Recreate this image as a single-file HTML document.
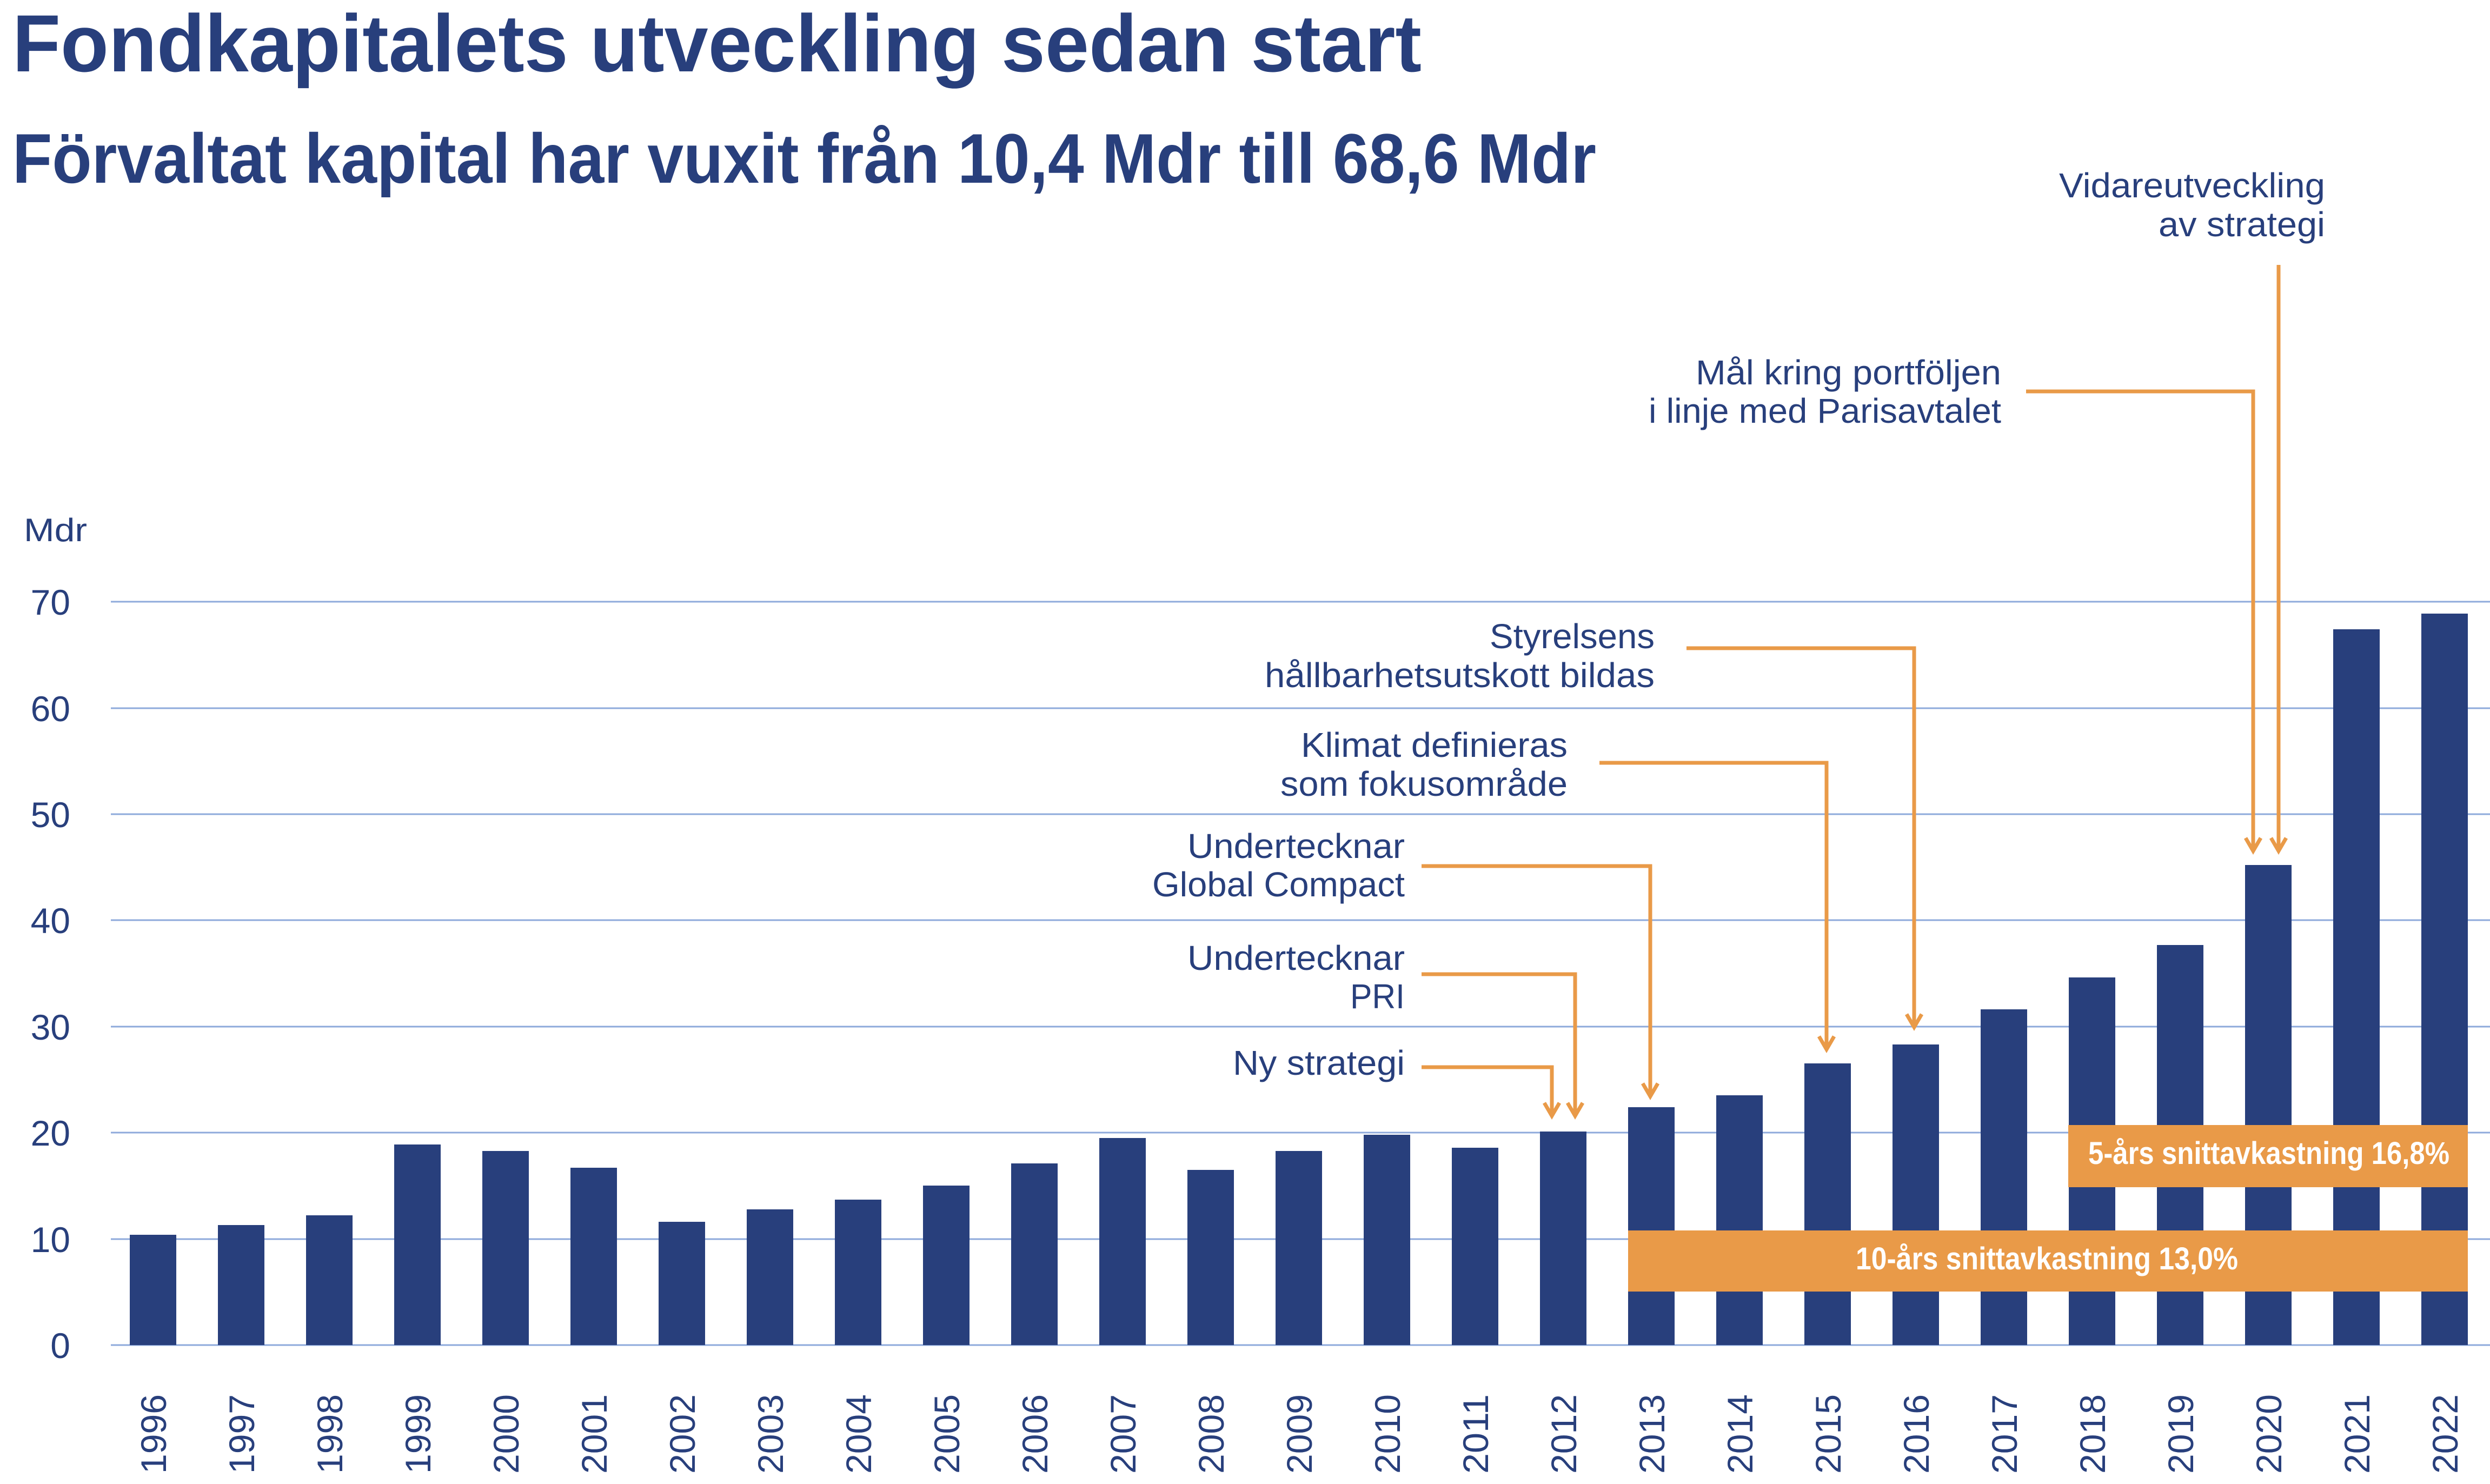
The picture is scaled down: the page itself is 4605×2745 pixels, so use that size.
<!DOCTYPE html>
<html><head><meta charset="utf-8"><style>
html,body{margin:0;padding:0;background:#fff;}
svg{display:block;}
</style></head><body>
<svg width="4605" height="2745" viewBox="0 0 4605 2745" xmlns="http://www.w3.org/2000/svg" font-family="'Liberation Sans', sans-serif">
<rect width="4605" height="2745" fill="#fff"/>
<text x="23" y="132" font-size="150" font-weight="bold" fill="#283f7c" textLength="2606" lengthAdjust="spacingAndGlyphs">Fondkapitalets utveckling sedan start</text>
<text x="23" y="338" font-size="130" font-weight="bold" fill="#283f7c" textLength="2929" lengthAdjust="spacingAndGlyphs">Förvaltat kapital har vuxit från 10,4 Mdr till 68,6 Mdr</text>

<g stroke="#8eaadb" stroke-width="3">
<line x1="205" y1="2488" x2="4605" y2="2488"/>
<line x1="205" y1="2292" x2="4605" y2="2292"/>
<line x1="205" y1="2095" x2="4605" y2="2095"/>
<line x1="205" y1="1899" x2="4605" y2="1899"/>
<line x1="205" y1="1702" x2="4605" y2="1702"/>
<line x1="205" y1="1506" x2="4605" y2="1506"/>
<line x1="205" y1="1310" x2="4605" y2="1310"/>
<line x1="205" y1="1113" x2="4605" y2="1113"/>
</g>
<g font-size="66" fill="#283f7c" text-anchor="end">
<text x="130" y="2512">0</text>
<text x="130" y="2316">10</text>
<text x="130" y="2119">20</text>
<text x="130" y="1923">30</text>
<text x="130" y="1726">40</text>
<text x="130" y="1530">50</text>
<text x="130" y="1334">60</text>
<text x="130" y="1137">70</text>
</g>
<text x="44" y="1001" font-size="60" fill="#283f7c" textLength="117" lengthAdjust="spacingAndGlyphs">Mdr</text>

<g fill="#283f7c">
<rect x="240" y="2284" width="86" height="204"/>
<rect x="403" y="2266" width="86" height="222"/>
<rect x="566" y="2248" width="86" height="240"/>
<rect x="729" y="2117" width="86" height="371"/>
<rect x="892" y="2129" width="86" height="359"/>
<rect x="1055" y="2160" width="86" height="328"/>
<rect x="1218" y="2260" width="86" height="228"/>
<rect x="1381" y="2237" width="86" height="251"/>
<rect x="1544" y="2219" width="86" height="269"/>
<rect x="1707" y="2193" width="86" height="295"/>
<rect x="1870" y="2152" width="86" height="336"/>
<rect x="2033" y="2105" width="86" height="383"/>
<rect x="2196" y="2164" width="86" height="324"/>
<rect x="2359" y="2129" width="86" height="359"/>
<rect x="2522" y="2099" width="86" height="389"/>
<rect x="2685" y="2123" width="86" height="365"/>
<rect x="2848" y="2093" width="86" height="395"/>
<rect x="3011" y="2048" width="86" height="440"/>
<rect x="3174" y="2026" width="86" height="462"/>
<rect x="3337" y="1967" width="86" height="521"/>
<rect x="3500" y="1932" width="86" height="556"/>
<rect x="3663" y="1867" width="86" height="621"/>
<rect x="3826" y="1808" width="86" height="680"/>
<rect x="3989" y="1748" width="86" height="740"/>
<rect x="4152" y="1600" width="86" height="888"/>
<rect x="4315" y="1164" width="86" height="1324"/>
<rect x="4478" y="1135" width="86" height="1353"/>
</g>

<rect x="3011" y="2276" width="1553" height="113" fill="#e99a48"/>
<rect x="3825" y="2081" width="739" height="115" fill="#e99a48"/>
<text x="3432" y="2348" font-size="58" font-weight="bold" fill="#fff" textLength="707" lengthAdjust="spacingAndGlyphs">10-års snittavkastning 13,0%</text>
<text x="3862" y="2153" font-size="58" font-weight="bold" fill="#fff" textLength="668" lengthAdjust="spacingAndGlyphs">5-års snittavkastning 16,8%</text>

<g font-size="66" fill="#283f7c">
<text transform="translate(307,2726) rotate(-90)" textLength="147" lengthAdjust="spacingAndGlyphs">1996</text>
<text transform="translate(470,2726) rotate(-90)" textLength="147" lengthAdjust="spacingAndGlyphs">1997</text>
<text transform="translate(633,2726) rotate(-90)" textLength="147" lengthAdjust="spacingAndGlyphs">1998</text>
<text transform="translate(796,2726) rotate(-90)" textLength="147" lengthAdjust="spacingAndGlyphs">1999</text>
<text transform="translate(959,2726) rotate(-90)" textLength="147" lengthAdjust="spacingAndGlyphs">2000</text>
<text transform="translate(1122,2726) rotate(-90)" textLength="147" lengthAdjust="spacingAndGlyphs">2001</text>
<text transform="translate(1285,2726) rotate(-90)" textLength="147" lengthAdjust="spacingAndGlyphs">2002</text>
<text transform="translate(1448,2726) rotate(-90)" textLength="147" lengthAdjust="spacingAndGlyphs">2003</text>
<text transform="translate(1611,2726) rotate(-90)" textLength="147" lengthAdjust="spacingAndGlyphs">2004</text>
<text transform="translate(1774,2726) rotate(-90)" textLength="147" lengthAdjust="spacingAndGlyphs">2005</text>
<text transform="translate(1937,2726) rotate(-90)" textLength="147" lengthAdjust="spacingAndGlyphs">2006</text>
<text transform="translate(2100,2726) rotate(-90)" textLength="147" lengthAdjust="spacingAndGlyphs">2007</text>
<text transform="translate(2263,2726) rotate(-90)" textLength="147" lengthAdjust="spacingAndGlyphs">2008</text>
<text transform="translate(2426,2726) rotate(-90)" textLength="147" lengthAdjust="spacingAndGlyphs">2009</text>
<text transform="translate(2589,2726) rotate(-90)" textLength="147" lengthAdjust="spacingAndGlyphs">2010</text>
<text transform="translate(2752,2726) rotate(-90)" textLength="147" lengthAdjust="spacingAndGlyphs">2011</text>
<text transform="translate(2915,2726) rotate(-90)" textLength="147" lengthAdjust="spacingAndGlyphs">2012</text>
<text transform="translate(3078,2726) rotate(-90)" textLength="147" lengthAdjust="spacingAndGlyphs">2013</text>
<text transform="translate(3241,2726) rotate(-90)" textLength="147" lengthAdjust="spacingAndGlyphs">2014</text>
<text transform="translate(3404,2726) rotate(-90)" textLength="147" lengthAdjust="spacingAndGlyphs">2015</text>
<text transform="translate(3567,2726) rotate(-90)" textLength="147" lengthAdjust="spacingAndGlyphs">2016</text>
<text transform="translate(3730,2726) rotate(-90)" textLength="147" lengthAdjust="spacingAndGlyphs">2017</text>
<text transform="translate(3893,2726) rotate(-90)" textLength="147" lengthAdjust="spacingAndGlyphs">2018</text>
<text transform="translate(4056,2726) rotate(-90)" textLength="147" lengthAdjust="spacingAndGlyphs">2019</text>
<text transform="translate(4219,2726) rotate(-90)" textLength="147" lengthAdjust="spacingAndGlyphs">2020</text>
<text transform="translate(4382,2726) rotate(-90)" textLength="147" lengthAdjust="spacingAndGlyphs">2021</text>
<text transform="translate(4545,2726) rotate(-90)" textLength="147" lengthAdjust="spacingAndGlyphs">2022</text>
</g>

<g fill="none" stroke="#e99a48" stroke-width="7">
<polyline points="2629,1974 2870,1974 2870,2064"/>
<polyline points="2856,2040 2870,2064 2884,2040"/>
<polyline points="2629,1802 2913,1802 2913,2064"/>
<polyline points="2899,2040 2913,2064 2927,2040"/>
<polyline points="2629,1602 3052,1602 3052,2028"/>
<polyline points="3038,2004 3052,2028 3066,2004"/>
<polyline points="2958,1411 3378,1411 3378,1941"/>
<polyline points="3364,1917 3378,1941 3392,1917"/>
<polyline points="3119,1199 3540,1199 3540,1900"/>
<polyline points="3526,1876 3540,1900 3554,1876"/>
<polyline points="3747,724 4167,724 4167,1574"/>
<polyline points="4153,1550 4167,1574 4181,1550"/>
<polyline points="4214,490 4214,1574"/>
<polyline points="4200,1550 4214,1574 4228,1550"/>
</g>

<g font-size="64" fill="#283f7c" lengthAdjust="spacingAndGlyphs">
<text x="3808" y="365" textLength="492" lengthAdjust="spacingAndGlyphs">Vidareutveckling</text>
<text x="3992" y="437" textLength="308" lengthAdjust="spacingAndGlyphs">av strategi</text>
<text x="3136" y="711" textLength="565" lengthAdjust="spacingAndGlyphs">Mål kring portföljen</text>
<text x="3049" y="782" textLength="652" lengthAdjust="spacingAndGlyphs">i linje med Parisavtalet</text>
<text x="2755" y="1199" textLength="305" lengthAdjust="spacingAndGlyphs">Styrelsens</text>
<text x="2339" y="1271" textLength="721" lengthAdjust="spacingAndGlyphs">hållbarhetsutskott bildas</text>
<text x="2406" y="1400" textLength="493" lengthAdjust="spacingAndGlyphs">Klimat definieras</text>
<text x="2368" y="1472" textLength="531" lengthAdjust="spacingAndGlyphs">som fokusområde</text>
<text x="2196" y="1587" textLength="402" lengthAdjust="spacingAndGlyphs">Undertecknar</text>
<text x="2131" y="1658" textLength="467" lengthAdjust="spacingAndGlyphs">Global Compact</text>
<text x="2196" y="1794" textLength="402" lengthAdjust="spacingAndGlyphs">Undertecknar</text>
<text x="2497" y="1865" textLength="101" lengthAdjust="spacingAndGlyphs">PRI</text>
<text x="2280" y="1988" textLength="318" lengthAdjust="spacingAndGlyphs">Ny strategi</text>
</g>
</svg>
</body></html>
